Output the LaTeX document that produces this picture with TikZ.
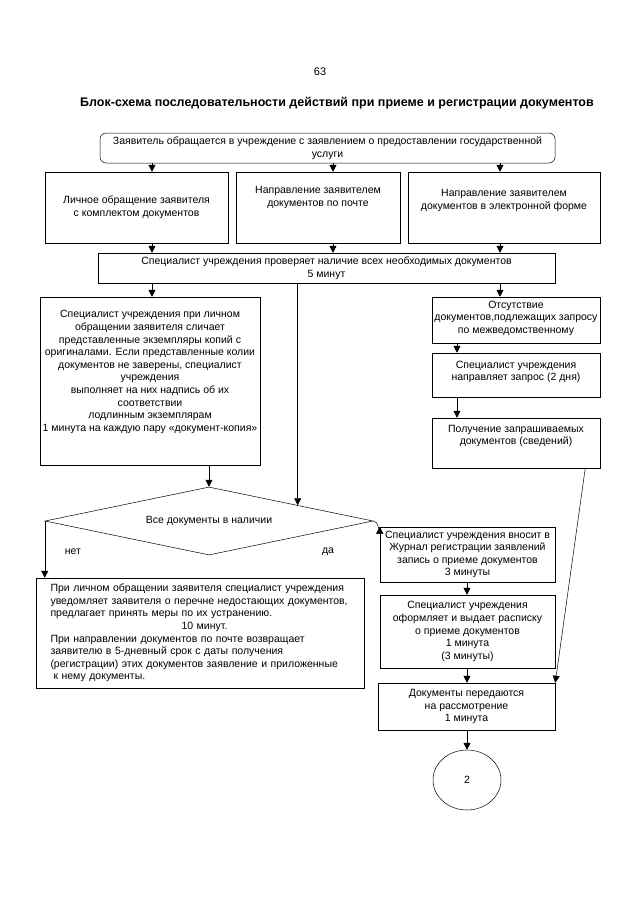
\documentclass[tikz,border=0pt]{standalone}
\usepackage{fontspec}
\setmainfont{Liberation Sans}
\usetikzlibrary{arrows.meta,positioning,shapes.geometric,calc}

\begin{document}
\begin{tikzpicture}[
    x=1pt, y=-1pt,
    font=\fontsize{10.5}{12.6}\selectfont,
    box/.style={
      draw, align=center, inner sep=2pt, line width=0.5pt
    },
    lift/.style={text depth=#1},
    arr/.style={-{Triangle[length=7pt,width=7pt]}, line width=0.5pt}
  ]
    \useasboundingbox[fill=white] (0,0) rectangle (640,905);

    % Heading
    \node (pageno) at (320,72) {\fontsize{11}{13}\selectfont 63};
    \node[font=\bfseries\fontsize{12.5}{15}\selectfont] (title) at (337,103)
      {Блок-схема последовательности действий при приеме и регистрации документов};

    % Columns for the vertical connectors
    \coordinate (colA) at (152,0);
    \coordinate (colB) at (333,0);
    \coordinate (colD) at (500,0);
    \coordinate (colE) at (457,0);
    \coordinate (colF) at (467,0);

    % Request and ways of sending it
    \node[box, rounded corners=6pt, minimum width=455pt, minimum height=30pt] (apply) at (327.5,148)
      {Заявитель обращается в учреждение с заявлением о предоставлении государственной\\услуги};
    \node[box, minimum width=183pt, minimum height=71pt] (personal) at (136.5,207.5)
      {Личное обращение заявителя\\с комплектом документов};
    \node[box, lift=22pt, minimum width=164pt, minimum height=71pt] (post) at (318,207.5)
      {Направление заявителем\\документов по почте};
    \node[box, lift=16pt, minimum width=192pt, minimum height=71pt] (online) at (504,207.5)
      {Направление заявителем\\документов в электронной форме};

    \draw[arr] (apply.south -| colA) -- (personal.north -| colA);
    \draw[arr] (apply.south -| colB) -- (post.north -| colB);
    \draw[arr] (apply.south -| colD) -- (online.north -| colD);

    % Check of the documents
    \node[box, minimum width=457pt, minimum height=30pt] (check) at (326.5,268)
      {Специалист учреждения проверяет наличие всех необходимых документов\\5 минут};

    \draw[arr] (personal.south -| colA) -- (check.north -| colA);
    \draw[arr] (post.south -| colB) -- (check.north -| colB);
    \draw[arr] (online.south -| colD) -- (check.north -| colD);

    % Left branch: copies compared
    \node[box, lift=20pt, minimum width=220pt, minimum height=168pt] (compare) at (150,381)
      {Специалист учреждения при личном\\обращении заявителя сличает\\представленные экземпляры копий с\\оригиналами. Если представленные колии\\документов не заверены, специалист\\учреждения\\выполняет на них надпись об их\\соответствии\\лодлинным экземплярам\\1 минута на каждую пару «документ-копия»};

    % Right branch: interdepartmental request
    \node[box, lift=6pt, minimum width=168pt, minimum height=46pt] (absent) at (516,320)
      {Отсутствие\\документов,подлежащих запросу\\по межведомственному};
    \node[box, lift=8pt, minimum width=168pt, minimum height=44pt] (request) at (516,375)
      {Специалист учреждения\\направляет запрос (2 дня)};
    \node[box, lift=16pt, minimum width=168pt, minimum height=50pt] (receive) at (516,443)
      {Получение запрашиваемых\\документов (сведений)};

    \draw[arr] (check.south -| colA) -- (compare.north -| colA);
    \draw[arr] (check.south -| colD) -- (absent.north -| colD);
    \draw[arr] (absent.south -| colE) -- (request.north -| colE);
    \draw[arr] (request.south -| colE) -- (receive.north -| colE);

    % Decision
    \node[draw, diamond, shape aspect=4.8, line width=0.5pt, inner sep=0pt,
          minimum width=328pt, minimum height=68pt] (complete) at (209,521)
      {Все документы в наличии};
    \node (no) at (73,552) {нет};
    \node (yes) at (328,552) {да};
    \coordinate (hit) at ($(complete.north)!0.54!(complete.east)$);

    \draw[arr] (compare.south -| complete.north) -- (complete.north);
    \draw[arr] (check.south -| hit) -- (hit);

    % Missing documents
    \node[box, text width=300pt, align=left, inner xsep=14pt, minimum height=110pt] (missing) at (200.5,633)
      {При личном обращении заявителя специалист учреждения\\уведомляет заявителя о перечне недостающих документов,\\предлагает принять меры по их устранению.\\\phantom{предлагает принять меры }10 минут.\\При направлении документов по почте возвращает\\заявителю в 5-дневный срок с даты получения\\(регистрации) этих документов заявление и приложенные\\\hspace*{3pt}к нему документы.};

    \draw[arr] (complete.west) -- (complete.west |- missing.north);

    % Registration chain
    \node[box, minimum width=175pt, minimum height=55pt] (journal) at (467.5,554.5)
      {Специалист учреждения вносит в\\Журнал регистрации заявлений\\запись о приеме документов\\3 минуты};
    \node[box, minimum width=175pt, minimum height=73pt] (receipt) at (467.5,631.5)
      {Специалист учреждения\\оформляет и выдает расписку\\о приеме документов\\1 минута\\(3 минуты)};
    \node[box, minimum width=177pt, minimum height=47pt] (handover) at (466.5,706.5)
      {Документы передаются\\на рассмотрение\\1 минута};
    \node[draw, ellipse, line width=0.5pt, minimum width=68pt, minimum height=60pt] (next) at (467,780) {2};

    \draw[arr] (complete.east) .. controls +(5,0) and +(0,5) .. (journal.north west);
    \draw[arr] (journal.south -| colF) -- (receipt.north -| colF);
    \draw[arr] (receipt.south -| colF) -- (handover.north -| colF);
    \draw[arr] (handover.south -| colF) -- (next.north);

    \coordinate (recvout) at ($(receive.south east)+(-15pt,0)$);
    \draw[arr] (recvout) -- (handover.north east);
  \end{tikzpicture}
\end{document}
